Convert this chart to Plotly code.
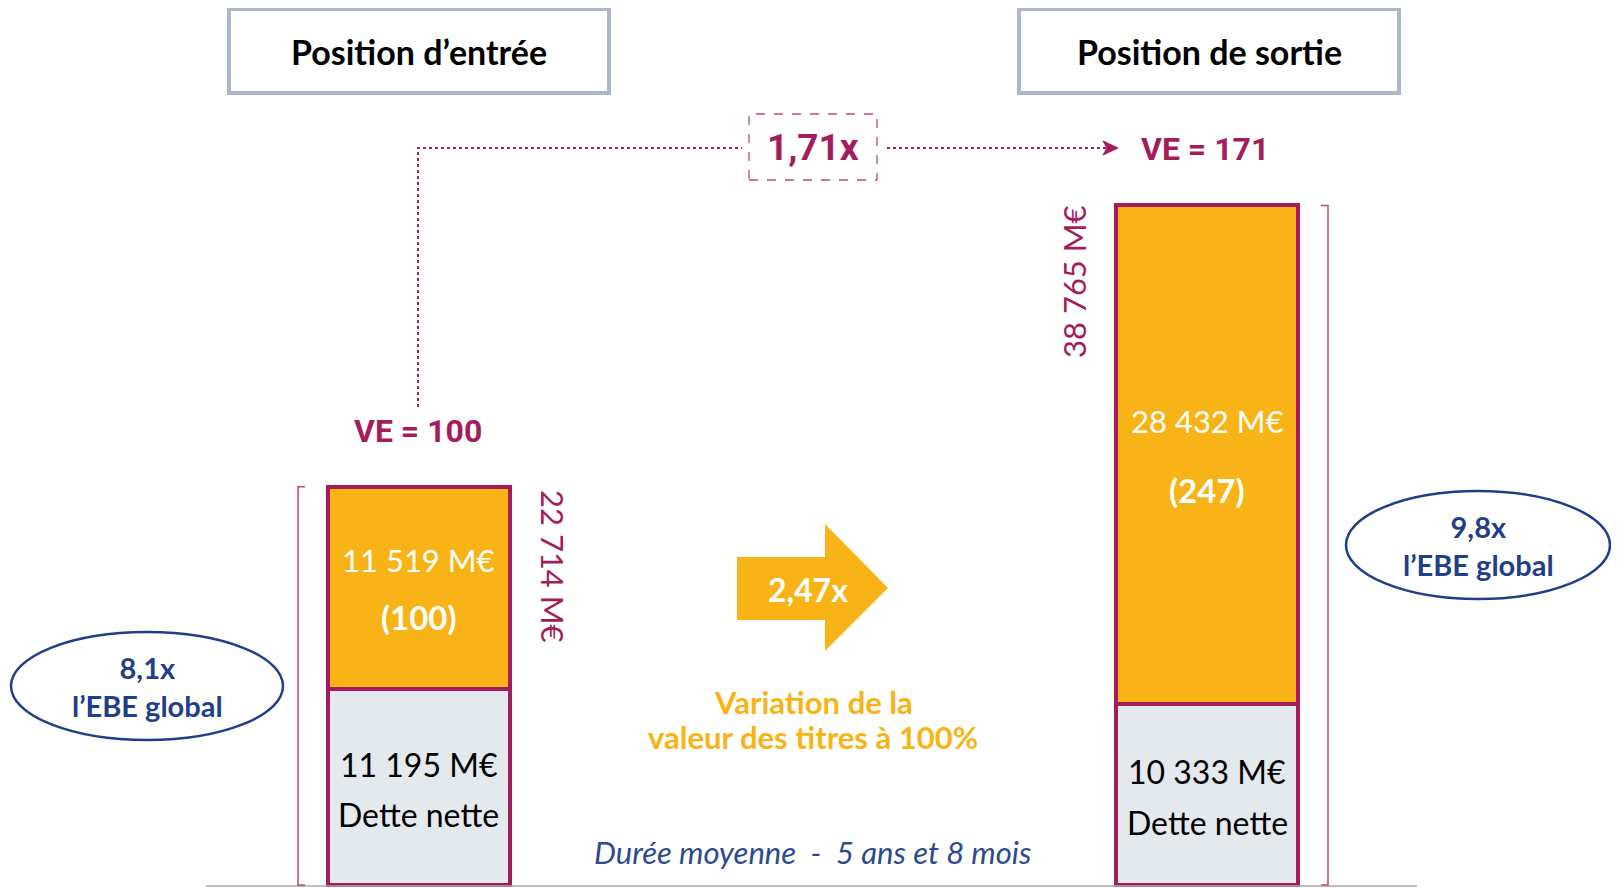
import plotly.graph_objects as go

# Données (M€)
positions = ["Position d’entrée", "Position de sortie"]
dette_nette = [11195, 10333]
valeur_titres = [11519, 28432]
multiple_ebe = ["8,1x", "9,8x"]
duree_moyenne = "Durée moyenne  -  5 ans et 8 mois"
variation_label = ["Variation de la", "valeur des titres à 100%"]

# Valeurs dérivées
total_ve = [d + v for d, v in zip(dette_nette, valeur_titres)]
indice_titres = [round(v / valeur_titres[0] * 100) for v in valeur_titres]
indice_ve = [round(t / total_ve[0] * 100) for t in total_ve]
mult_ve = total_ve[1] / total_ve[0]
mult_titres = valeur_titres[1] / valeur_titres[0]


def fmt_me(v):
    return f"{v:,}".replace(",", " ") + " M€"


def fmt_x(v):
    return f"{v:.2f}".replace(".", ",") + "x"


W, H = 1619, 888
OFF = 8  # marge par défaut du <body> dans la page html
MAGENTA = "#A51C5C"
MAGENTA_CLAIR = "#C4487E"
ORANGE = "#F8B416"
GRIS = "#E3E9ED"
NAVY = "#213E88"
CADRE = "#ADB6CA"
FONT = "Lato"
FONT_COND = "Roboto"


def fx(x):
    return (x - OFF) / W


def fy(y):
    return 1 - (y - OFF) / H


# échelle verticale : 0 M€ au pixel 885, ~0.01753 px par M€
px_par_me = 0.01753
base_px = 885 - OFF
y_range = [-(H - base_px) / px_par_me, base_px / px_par_me]

bar_x = [418.5, 1207]
bar_w = 182

fig = go.Figure()
fig.add_trace(go.Bar(x=bar_x, y=dette_nette, width=bar_w, name="Dette nette",
                     marker=dict(color=GRIS, line=dict(color=MAGENTA, width=4)), hoverinfo="skip"))
fig.add_trace(go.Bar(x=bar_x, y=valeur_titres, width=bar_w, name="Valeur des titres",
                     marker=dict(color=ORANGE, line=dict(color=MAGENTA, width=4)), hoverinfo="skip"))

shapes = []
annotations = []


def texte(x, y, txt, size, color, font=FONT, angle=0, xref="paper"):
    annotations.append(dict(x=fx(x) if xref == "paper" else x, y=fy(y), xref=xref, yref="paper",
                            text=txt, showarrow=False, textangle=angle,
                            font=dict(family=font, size=size, color=color),
                            xanchor="center", yanchor="middle"))


# cadres titres
for (x0, x1), titre in zip([(229, 609), (1019, 1399)], positions):
    shapes.append(dict(type="rect", xref="paper", yref="paper", x0=fx(x0), x1=fx(x1), y0=fy(93), y1=fy(9),
                       line=dict(color=CADRE, width=4), fillcolor="white"))
    texte((x0 + x1) / 2, 51, f"<b>{titre}</b>", 34, "black")

# ligne de base
shapes.append(dict(type="line", xref="paper", yref="y", x0=fx(206), x1=fx(1417), y0=-60, y1=-60,
                   line=dict(color="#A8A8A8", width=1.5)))

# crochets de part et d'autre des barres
shapes.append(dict(type="path", xref="paper", yref="y",
                   path=f"M {fx(305)},{total_ve[0]} L {fx(298)},{total_ve[0]} L {fx(298)},0 L {fx(305)},0",
                   line=dict(color=MAGENTA_CLAIR, width=1.5)))
shapes.append(dict(type="path", xref="paper", yref="y",
                   path=f"M {fx(1321)},{total_ve[1]} L {fx(1328)},{total_ve[1]} L {fx(1328)},0 L {fx(1321)},0",
                   line=dict(color=MAGENTA_CLAIR, width=1.5)))

# connecteur pointillé VE
shapes.append(dict(type="path", xref="paper", yref="paper",
                   path=f"M {fx(418)},{fy(407)} L {fx(418)},{fy(148)} L {fx(742)},{fy(148)}",
                   line=dict(color=MAGENTA, width=2, dash="dot")))
shapes.append(dict(type="line", xref="paper", yref="paper", x0=fx(887), x1=fx(1110), y0=fy(148), y1=fy(148),
                   line=dict(color=MAGENTA, width=2, dash="dot")))
shapes.append(dict(type="path", xref="paper", yref="paper",
                   path=f"M {fx(1103)},{fy(141)} L {fx(1118)},{fy(148)} L {fx(1103)},{fy(155)} L {fx(1107)},{fy(148)} Z",
                   fillcolor=MAGENTA, line=dict(color=MAGENTA, width=1)))
shapes.append(dict(type="rect", xref="paper", yref="paper", x0=fx(749), x1=fx(877), y0=fy(180), y1=fy(114),
                   line=dict(color=MAGENTA_CLAIR, width=1.3, dash="dash")))
texte(813, 148, f"<b>{fmt_x(mult_ve)}</b>", 37, MAGENTA, FONT_COND)

# VE
texte(418, 431, f"<b>VE = {indice_ve[0]}</b>", 32, MAGENTA, FONT_COND)
texte(1205, 149, f"<b>VE = {indice_ve[1]}</b>", 32, MAGENTA, FONT_COND)

# grosse flèche orange
shapes.append(dict(type="path", xref="paper", yref="paper",
                   path=(f"M {fx(737)},{fy(557)} L {fx(825)},{fy(557)} L {fx(825)},{fy(524)} "
                         f"L {fx(888)},{fy(588)} L {fx(825)},{fy(651)} L {fx(825)},{fy(620)} "
                         f"L {fx(737)},{fy(620)} Z"),
                   fillcolor=ORANGE, line=dict(width=0)))
texte(808, 589, f"<b>{fmt_x(mult_titres)}</b>", 32, "white")
texte(813, 702, f"<b>{variation_label[0]}</b>", 31, ORANGE)
texte(813, 737, f"<b>{variation_label[1]}</b>", 31, ORANGE)
texte(812, 852, f"<i>{duree_moyenne}</i>", 31, "#2E4A8E")

# textes dans les barres
texte(bar_x[0], 560, fmt_me(valeur_titres[0]), 31, "white", xref="x")
texte(bar_x[0], 617, f"<b>({indice_titres[0]})</b>", 33, "white", xref="x")
texte(bar_x[0], 764, fmt_me(dette_nette[0]), 32, "black", xref="x")
texte(bar_x[0], 814, "Dette nette", 32, "black", xref="x")
texte(bar_x[1], 421, fmt_me(valeur_titres[1]), 31, "white", xref="x")
texte(bar_x[1], 490, f"<b>({indice_titres[1]})</b>", 33, "white", xref="x")
texte(bar_x[1], 771, fmt_me(dette_nette[1]), 32, "black", xref="x")
texte(bar_x[1], 822, "Dette nette", 32, "black", xref="x")

# totaux verticaux
texte(553, 566, fmt_me(total_ve[0]), 31, MAGENTA, angle=90)
texte(1074, 282, fmt_me(total_ve[1]), 31, MAGENTA, angle=-90)

# ellipses multiples d'EBE
for (cx, cy, rx), m in zip([(147, 686, 136), (1478, 545, 132)], multiple_ebe):
    shapes.append(dict(type="circle", xref="paper", yref="paper", x0=fx(cx - rx), x1=fx(cx + rx),
                       y0=fy(cy + 54), y1=fy(cy - 54), line=dict(color=NAVY, width=2.5), fillcolor="white"))
    texte(cx, cy, f"<b>{m}<br>l’EBE global</b>", 29, NAVY)

fig.update_layout(
    width=W, height=H, barmode="stack", showlegend=False,
    margin=dict(l=0, r=0, t=0, b=0),
    plot_bgcolor="white", paper_bgcolor="white",
    xaxis=dict(range=[OFF, W + OFF], visible=False, fixedrange=True),
    yaxis=dict(range=y_range, visible=False, fixedrange=True),
    shapes=shapes, annotations=annotations,
)
fig.write_html("out.html")
